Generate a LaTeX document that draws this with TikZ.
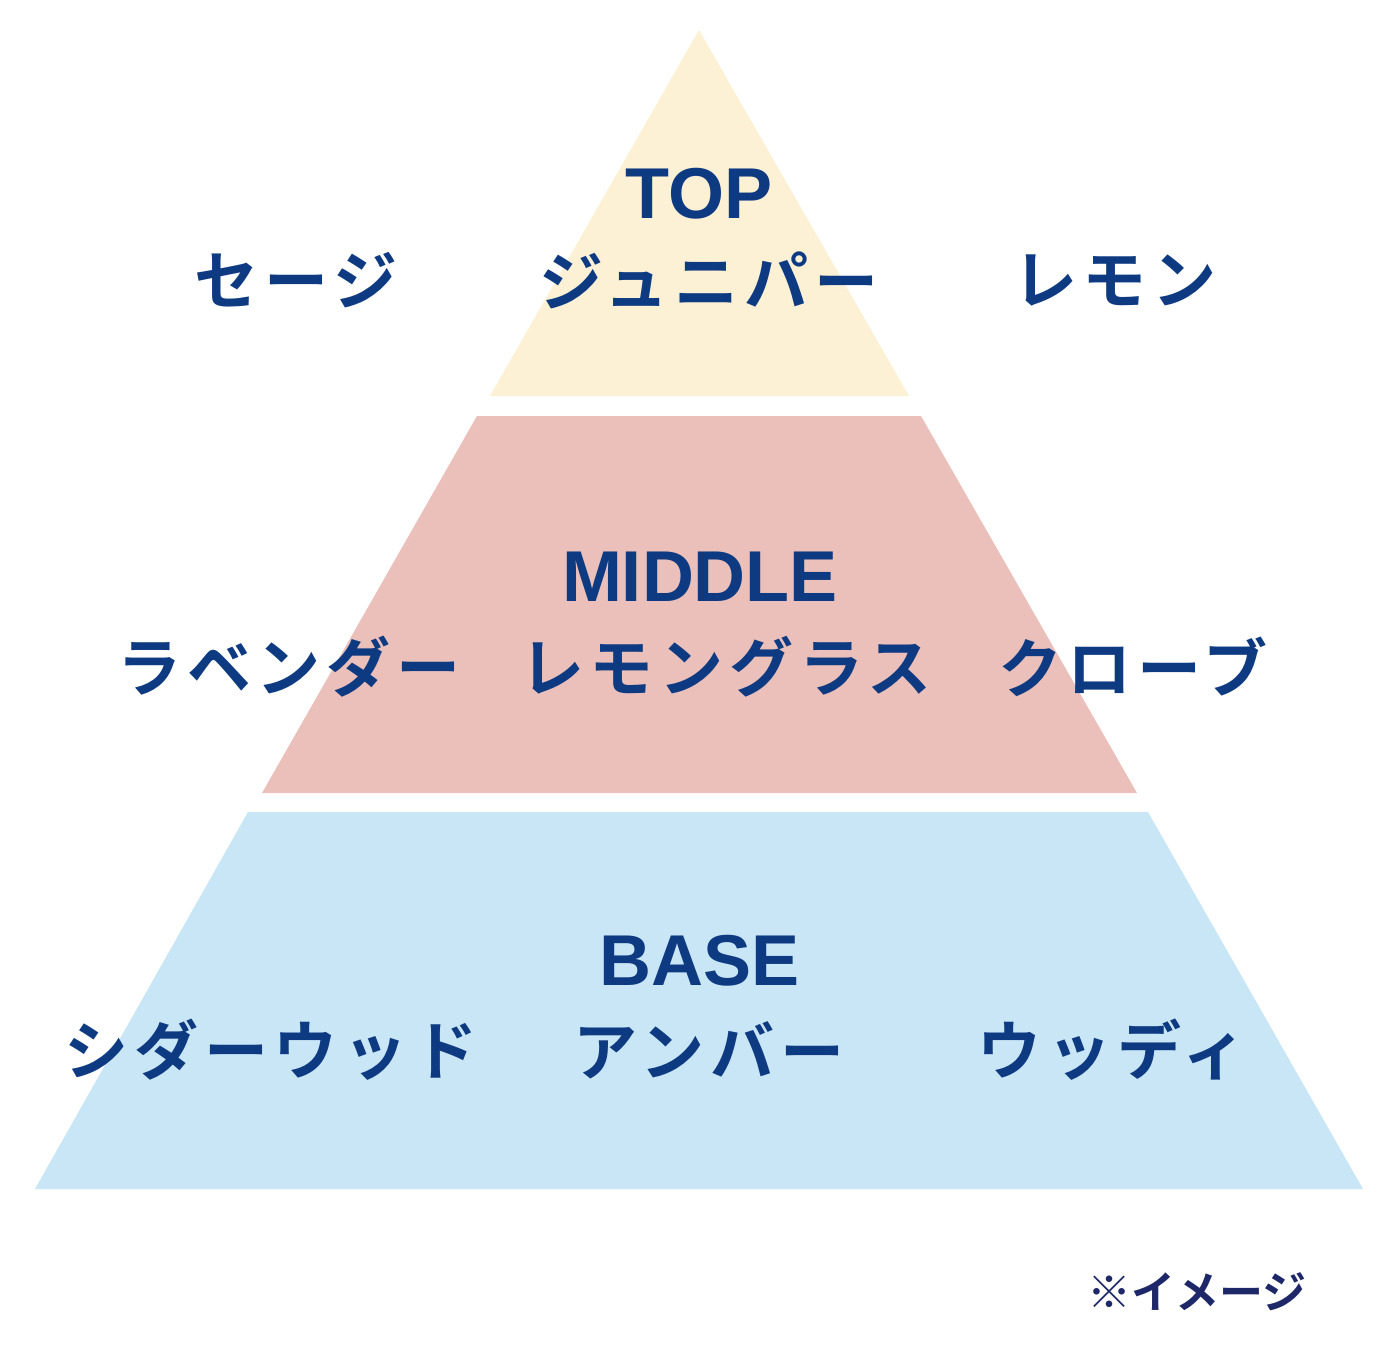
\documentclass[tikz,border=0pt]{standalone}
\usepackage{fontspec}
\newfontfamily\jp{Noto Sans CJK JP}[UprightFont={* Medium},BoldFont={* Bold},LetterSpace=9]
\newfontfamily\jpnote{Noto Sans CJK JP}[UprightFont={* Medium},BoldFont={* Bold}]
\newfontfamily\lat{Liberation Sans}
\definecolor{topc}{RGB}{252,240,213}
\definecolor{midc}{RGB}{235,192,186}
\definecolor{basec}{RGB}{201,230,246}
\definecolor{ink}{RGB}{14,58,130}
\definecolor{note}{RGB}{30,40,105}
\begin{document}
\begin{tikzpicture}[x=0.5pt,y=-0.5pt,
  head/.style={font=\lat\bfseries\fontsize{36}{36}\selectfont, text=ink, inner sep=0pt},
  item/.style={font=\jp\bfseries\fontsize{32}{32}\selectfont, text=ink, inner sep=0pt},
  notetxt/.style={font=\jpnote\bfseries\fontsize{22}{22}\selectfont, text=note, inner sep=0pt}]
\useasboundingbox (0,0) rectangle (1399,1350);
\fill[white] (0,0) rectangle (1399,1350);
% layers
\fill[topc] (699,30) -- (909,396) -- (490,396) -- cycle;
\fill[midc] (477,416) -- (921,416) -- (1137,793) -- (262,793) -- cycle;
\fill[basec] (248,812) -- (1148,812) -- (1363,1189) -- (35,1189) -- cycle;
% top
\node[head] (top) at (699,194) {TOP};
\node[item] (t1) at (296,280) {セージ};
\node[item] (t2) at (709,280) {ジュニパー};
\node[item] (t3) at (1115,280) {レモン};
% middle
\node[head] (mid) at (700,577) {MIDDLE};
\node[item] (m1) at (289,667) {ラベンダー};
\node[item] (m2) at (726,667) {レモングラス};
\node[item] (m3) at (1133,667) {クローブ};
% base
\node[head] (base) at (700,961) {BASE};
\node[item] (b1) at (271,1050) {シダーウッド};
\node[item] (b2) at (709,1050) {アンバー};
\node[item] (b3) at (1112,1050) {ウッディ};
% note
\node[notetxt] (nt) at (1197,1292) {※イメージ};
\end{tikzpicture}
\end{document}
